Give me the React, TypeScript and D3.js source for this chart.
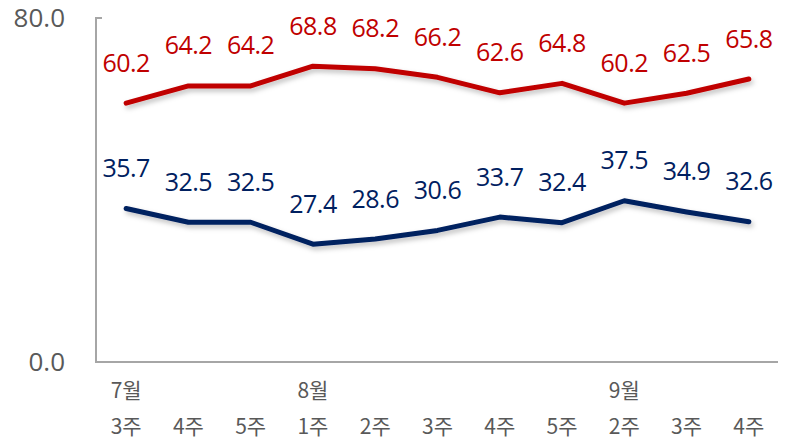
import React, { useRef, useEffect } from 'react';
import * as d3 from 'd3';

const months = ['7월', '', '', '8월', '', '', '', '', '9월', '', ''];
const weeks = ['3주', '4주', '5주', '1주', '2주', '3주', '4주', '5주', '2주', '3주', '4주'];
const redValues = [60.2, 64.2, 64.2, 68.8, 68.2, 66.2, 62.6, 64.8, 60.2, 62.5, 65.8];
const blueValues = [35.7, 32.5, 32.5, 27.4, 28.6, 30.6, 33.7, 32.4, 37.5, 34.9, 32.6];
const yTicks = [0, 80];

const KFONT = '"Noto Sans CJK KR", "Noto Sans", sans-serif';
const NFONT = '"Open Sans", "Noto Sans", sans-serif';

const App = () => {
  const ref = useRef(null);

  useEffect(() => {
    const svg = d3.select(ref.current);
    svg.selectAll('*').remove();

    const idx = weeks.map((_, i) => i);
    const x = d3.scaleBand().domain(idx.map(String)).range([95, 780]);
    const cx = (i) => x(String(i)) + x.bandwidth() / 2;
    const y = d3.scaleLinear().domain([0, 80]).range([362, 18]);

    const defs = svg.append('defs');
    const f = defs.append('filter').attr('id', 'shadow').attr('x', '-10%').attr('y', '-50%').attr('width', '120%').attr('height', '200%');
    f.append('feDropShadow').attr('dx', 2).attr('dy', 3).attr('stdDeviation', 2.5).attr('flood-color', '#000').attr('flood-opacity', 0.25);

    // axes
    svg.append('path')
      .attr('d', `M102,${y(80)}H96V${y(0)}H778`)
      .attr('fill', 'none')
      .attr('stroke', '#a6a6a6')
      .attr('stroke-width', 2);

    svg.selectAll('.ytick')
      .data(yTicks)
      .enter()
      .append('text')
      .attr('x', 65)
      .attr('y', (d) => y(d))
      .attr('dy', '0.36em')
      .attr('text-anchor', 'end')
      .attr('font-family', NFONT)
      .attr('font-size', 26)
      .attr('fill', '#595959')
      .text((d) => d.toFixed(1));

    svg.selectAll('.month')
      .data(months)
      .enter()
      .append('text')
      .attr('x', (_, i) => cx(i))
      .attr('y', 391)
      .attr('dy', '0.35em')
      .attr('text-anchor', 'middle')
      .attr('font-family', KFONT)
      .attr('font-size', 21)
      .attr('fill', '#595959')
      .text((d) => d);

    svg.selectAll('.week')
      .data(weeks)
      .enter()
      .append('text')
      .attr('x', (_, i) => cx(i))
      .attr('y', 427)
      .attr('dy', '0.35em')
      .attr('text-anchor', 'middle')
      .attr('font-family', KFONT)
      .attr('font-size', 21)
      .attr('fill', '#595959')
      .text((d) => d);

    const line = d3.line<number>().x((_, i) => cx(i)).y((d) => y(d));

    const series = [
      { values: redValues, color: '#c00000' },
      { values: blueValues, color: '#002060' },
    ];

    series.forEach((s) => {
      svg.append('path')
        .datum(s.values)
        .attr('d', line)
        .attr('fill', 'none')
        .attr('stroke', s.color)
        .attr('stroke-width', 5)
        .attr('stroke-linecap', 'round')
        .attr('stroke-linejoin', 'round')
        .attr('filter', 'url(#shadow)');

      svg.selectAll(null)
        .data(s.values)
        .enter()
        .append('text')
        .attr('x', (_, i) => cx(i))
        .attr('y', (d) => y(d) - 40.5)
        .attr('dy', '0.36em')
        .attr('text-anchor', 'middle')
        .attr('font-family', NFONT)
        .attr('font-size', 25)
        .attr('letter-spacing', -0.5)
        .attr('fill', s.color)
        .text((d) => d.toFixed(1));
    });
  }, []);

  return (
    <svg ref={ref} width={789} height={443} style={{ position: 'absolute', left: 0, top: 0 }} />
  );
};

export default App;
